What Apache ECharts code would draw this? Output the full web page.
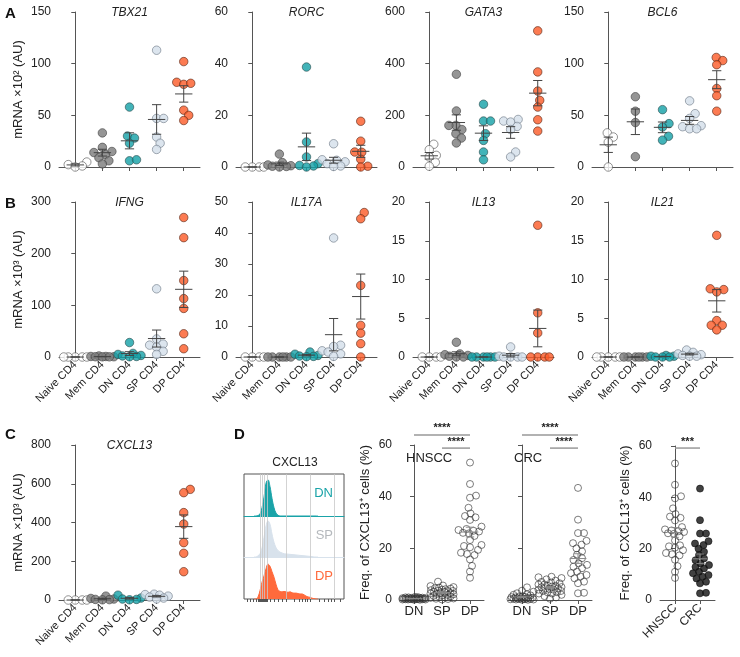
<!DOCTYPE html>
<html><head><meta charset="utf-8">
<script src="https://cdn.jsdelivr.net/npm/echarts@6/dist/echarts.min.js"></script>
<style>html,body{margin:0;padding:0;background:#fff}#c{width:740px;height:657px}</style>
</head><body><div id="c"></div><script>
// ---------------- DATA ----------------
const groups = ['Naive CD4','Mem CD4','DN CD4','SP CD4','DP CD4'];
// Panel A (mRNA x10^2)
const TBX21 = [[2.3,0,4.8,1],[33,19,15,14,12,9,6,3],[58,30,28,23,6,7],[113,47,47,29,23,17],[102,82,80,81,55,50,45]];
const RORC  = [[0,0,0,0],[5,1.7,0.8,0.5,0.3,0.2,0],[38.7,9.7,3.9,1.3,0.6,0.4,0],[9,2.8,2.6,2,1.3,0.4,0.2],[17.7,10,5.8,5.7,3,0.3,0]];
const GATA3 = [[88,67,45,39,18,3],[359,217,161,161,145,129,112,93],[243,178,178,129,103,58,28],[184,178,174,157,145,58,39],[527,368,294,258,232,183,139]];
const BCL6  = [[33,29,24,0],[68,54,43,10],[55.5,42,38.7,29.7,26],[64,51.6,47,40,39,37,37],[106,103,99,76,69,54]];
// Panel B (mRNA x10^3)
const IFNG  = [[0,0,0,0,0],[2,1,1,0.5,0.5,0.3,0.3],[28,7,5,3,2,1,0.5],[132,35,25,23,19,11,5],[270,231,148,113,94,45,16]];
const IL17A = [[0,0,0,0],[0,0,0,0,0,0],[1.6,0.9,0.5,0.3,0.2,0.1],[38.4,3.8,3.4,2,1.6,1,0.2],[46.6,44.6,23.1,10.2,7.7,4.3,0]];
const IL13  = [[0,0,0,0],[1.9,0.4,0.3,0.2,0.1,0,0],[0,0,0,0,0,0],[1.3,0.1,0,0,0,0],[17,5.7,3.1,0,0,0,0]];
const IL21  = [[0,0,0,0,0],[0,0,0,0,0,0],[0.2,0.1,0.1,0,0,0],[0.9,0.6,0.4,0.3,0.2,0.1,0.1],[15.7,8.8,8.7,8.4,4.7,4.1,4.1,3.5]];
// Panel C (mRNA x10^3)
const CXCL13 = [[0,0,0,0],[20,8,5,3,2,1],[25,10,5,3,1],[30,28,25,20,15,10,5],[571,554,451,392,296,241,146]];
// Panel D
const popCats = ['DN','SP','DP'];
const HNSCC_DN = [0.1,0.2,0.2,0.3,0.3,0.4,0.4,0.5,0.5,0.6,0.6,0.7,0.7,0.8,0.8,0.9,1.0,1.0,1.1,1.2,0.3,0.5,0.2,0.4,0.6,0.1,0.3,0.8];
const HNSCC_SP = [7.1,5.6,5.4,5.0,4.8,4.6,4.4,4.2,4.0,3.8,3.6,3.4,3.2,3.0,2.8,2.6,2.4,2.2,2.0,1.8,1.6,1.4,1.2,1.0,0.8,0.6,0.4,0.2,0.5,2.5,3.5];
const HNSCC_DP = [53.2,44.9,40.4,39.6,35.7,33.5,32.5,32,31,28.4,27.5,27.1,26.8,26.5,26,25.8,24.8,23.2,21.3,20.9,20.4,19.4,18.3,17.8,17.4,15.7,13.2,11,8.6];
const CRC_DN = [4.9,3.6,3.2,2.6,2.2,1.8,1.5,1.2,1.0,0.8,0.6,0.5,0.4,0.3,0.2,0.1,0.3,0.5,0.7,0.9,1.1,0.2,0.4,0.6,0.1,1.4,2.0];
const CRC_SP = [9.0,8.8,8.5,8.0,7.5,7.0,6.5,6.0,6.0,5.5,5.5,5.0,5.0,4.5,4.5,4.0,4.0,3.5,3.5,3.0,3.0,2.5,2.5,2.0,1.5,1.0,0.5,6.8,5.2,4.2];
const CRC_DP = [43.4,31.1,25.9,25.9,22.9,22,21.4,20,18.8,17.5,16.2,15.5,14.2,13.6,12.9,12.3,11,10.4,9.7,9.1,8.4,7.1,6.5,2.8,2.6];
const cohorts = ['HNSCC','CRC'];
// Histogram (CXCL13 intensity, relative channel 0-100, normalized height)
const HIST_X  = [10,12,14,16,18,20,22,24,26,28,30,32,34,36,38,40,42,44,46,48,50,52,54,56,58,60,62,64,66,68,70,72,74];
const HIST_DN = [0,0,0.01,0.05,0.2,0.45,0.78,0.86,0.7,0.42,0.2,0.07,0.02,0,0,0,0,0,0,0,0,0,0,0,0,0,0,0,0,0,0,0,0];
const HIST_SP = [0,0,0.03,0.08,0.22,0.48,0.76,0.88,0.8,0.56,0.36,0.23,0.16,0.12,0.1,0.08,0.075,0.07,0.065,0.06,0.055,0.05,0.045,0.04,0.035,0.03,0.025,0.02,0.015,0.01,0,0,0];
const HIST_DP = [0,0,0.05,0.2,0.4,0.55,0.72,0.83,0.78,0.65,0.52,0.35,0.22,0.18,0.17,0.18,0.17,0.16,0.17,0.15,0.14,0.14,0.13,0.12,0.12,0.1,0.07,0.05,0.04,0.02,0.01,0,0];

// ---------------- STYLE / LAYOUT ----------------
const FONT = '"Liberation Sans", Arial, Helvetica, sans-serif';
const AX = '#555', TXT = '#222';
const groupStyle = [
  {color:'#ffffff', borderColor:'#555'},
  {color:'#7b7b7b', borderColor:'#444'},
  {color:'#13a0a6', borderColor:'#2d4f50'},
  {color:'#d3deea', borderColor:'#6f7b88'},
  {color:'#fb5a27', borderColor:'#5a2a1a'}
];
const rowPanels = [
  {title:'TBX21', data:TBX21, max:150, step:50, left:59,  top:12,  yname:'mRNA ×10² (AU)', labels:false},
  {title:'RORC',  data:RORC,  max:60,  step:20, left:236, top:12,  labels:false},
  {title:'GATA3', data:GATA3, max:600, step:200,left:413, top:12,  labels:false},
  {title:'BCL6',  data:BCL6,  max:150, step:50, left:592, top:12,  labels:false},
  {title:'IFNG',  data:IFNG,  max:300, step:100,left:59,  top:202, yname:'mRNA ×10³ (AU)', labels:true},
  {title:'IL17A', data:IL17A, max:50,  step:10, left:236, top:202, labels:true},
  {title:'IL13',  data:IL13,  max:20,  step:5,  left:413, top:202, labels:true},
  {title:'IL21',  data:IL21,  max:20,  step:5,  left:592, top:202, labels:true},
  {title:'CXCL13',data:CXCL13,max:800, step:200,left:59,  top:445, yname:'mRNA ×10³ (AU)', labels:true}
];
const PW = 141, PH = 155, XMIN = -0.6, XMAX = 4.6;

function swarm(vals, ppu, catPx, d, maxFrac){
  const order = vals.map((v,i)=>i).sort((a,b)=>vals[a]-vals[b]);
  const placed = [], off = new Array(vals.length).fill(0);
  const maxOff = maxFrac*catPx;
  const cands = [0];
  for (let k=1;k<=60;k++){ const s=k*0.5; if (s>maxOff) break; cands.push(s,-s); }
  for (const i of order){
    const y = vals[i]*ppu;
    let best = 0, bestScore = -Infinity;
    for (const dx of cands){
      let minD = Infinity;
      for (const p of placed){ const dd = Math.hypot(p.x-dx, p.y-y); if (dd<minD) minD=dd; }
      if (minD >= d){ best = dx; break; }
      if (minD > bestScore){ bestScore = minD; best = dx; }
    }
    placed.push({x:best, y:y});
    off[i] = best/catPx;
  }
  return off;
}
function meanSem(v){
  const n=v.length, m=v.reduce((a,b)=>a+b,0)/n;
  const sd=Math.sqrt(v.reduce((a,b)=>a+(b-m)*(b-m),0)/(n-1));
  const s=sd/Math.sqrt(n);
  return [m, m-s, m+s];
}
function errRender(color, hwF, cwF){
  return function(params, api){
    const x=api.value(0), m=api.value(1), lo=api.value(2), hi=api.value(3);
    const pm=api.coord([x,m]), pl=api.coord([x,lo]), ph=api.coord([x,hi]);
    const unit=api.size([1,0])[0];
    const hw=unit*hwF, cw=unit*cwF;
    const style={stroke:color, lineWidth:1};
    return {type:'group', children:[
      {type:'line', shape:{x1:pm[0]-hw,y1:pm[1],x2:pm[0]+hw,y2:pm[1]}, style:style},
      {type:'line', shape:{x1:pl[0],y1:pl[1],x2:ph[0],y2:ph[1]}, style:style},
      {type:'line', shape:{x1:pl[0]-cw,y1:pl[1],x2:pl[0]+cw,y2:pl[1]}, style:style},
      {type:'line', shape:{x1:ph[0]-cw,y1:ph[1],x2:ph[0]+cw,y2:ph[1]}, style:style}
    ]};
  };
}

const option = {
  animation:false, backgroundColor:'#fff',
  textStyle:{fontFamily:FONT},
  grid:[], xAxis:[], yAxis:[], series:[], title:[], graphic:[]
};
function axisBase(){
  return {
    axisLine:{show:true, lineStyle:{color:AX, width:1}},
    axisTick:{show:true, length:4, lineStyle:{color:AX}},
    splitLine:{show:false},
    axisLabel:{color:TXT, fontSize:12, fontFamily:FONT}
  };
}

let gi = 0;
rowPanels.forEach(p=>{
  option.grid.push({left:p.left, top:p.top, width:PW, height:PH});
  const xa = Object.assign(axisBase(), {type:'value', gridIndex:gi, min:XMIN, max:XMAX});
  xa.axisTick = {show:true, length:4, lineStyle:{color:AX}, customValues:[0,1,2,3,4]};
  xa.axisLabel = p.labels ? {show:true, customValues:[0,1,2,3,4], formatter:v=>groups[Math.round(v)], rotate:45, fontSize:11, color:TXT, margin:6, fontFamily:FONT} : {show:false};
  option.xAxis.push(xa);
  const ya = Object.assign(axisBase(), {type:'value', gridIndex:gi, min:0, max:p.max, interval:p.step});
  if (p.yname){ Object.assign(ya, {name:p.yname, nameLocation:'middle', nameGap:34, nameTextStyle:{fontSize:13, color:TXT, fontFamily:FONT}}); }
  option.yAxis.push(ya);
  const catPx = PW/(XMAX-XMIN), ppu = PH/p.max;
  p.data.forEach((vals,k)=>{
    const off = swarm(vals, ppu, catPx, 7, 0.44);
    option.series.push({type:'scatter', xAxisIndex:gi, yAxisIndex:gi, symbolSize:8.5, z:2,
      itemStyle:Object.assign({borderWidth:0.8}, groupStyle[k]),
      data: vals.map((v,j)=>[k+off[j], v])});
  });
  option.series.push({type:'custom', xAxisIndex:gi, yAxisIndex:gi, z:5,
    renderItem: errRender('#444',0.32,0.17), encode:{x:0,y:1},
    data: p.data.map((vals,k)=>[k].concat(meanSem(vals)))});
  option.graphic.push({type:'text', x:p.left+PW/2, y:p.top+1, style:{text:p.title, font:'italic 12px '+FONT, fill:TXT, textAlign:'center', textVerticalAlign:'middle'}});
  gi++;
});

// ---- Panel D scatter panels ----
const dPanels = [
  {sets:[HNSCC_DN,HNSCC_SP,HNSCC_DP], cats:popCats, left:400, top:445, width:84, height:155, xmin:-0.5, xmax:2.5, ylabels:true, yname:'Freq. of CXCL13⁺ cells (%)', inner:'HNSCC', filled:[false,false,false], rot:0},
  {sets:[CRC_DN,CRC_SP,CRC_DP], cats:popCats, left:508, top:445, width:84, height:155, xmin:-0.5, xmax:2.5, ylabels:false, inner:'CRC', filled:[false,false,false], rot:0},
  {sets:[HNSCC_DP,CRC_DP], cats:cohorts, left:660, top:446, width:55, height:154, xmin:-0.6, xmax:1.6, ylabels:true, yname:'Freq. of CXCL13⁺ cells (%)', filled:[false,true], rot:45}
];
const dGrid = [];
dPanels.forEach(p=>{
  dGrid.push(gi);
  option.grid.push({left:p.left, top:p.top, width:p.width, height:p.height});
  const idx = p.cats.map((c,i)=>i);
  const xa = Object.assign(axisBase(), {type:'value', gridIndex:gi, min:p.xmin, max:p.xmax});
  xa.axisTick = {show:true, length:4, lineStyle:{color:AX}, customValues:idx};
  xa.axisLabel = {show:true, customValues:idx, formatter:v=>p.cats[Math.round(v)], rotate:p.rot, fontSize:p.rot?12:13, color:TXT, margin:p.rot?6:5, fontFamily:FONT};
  option.xAxis.push(xa);
  const ya = Object.assign(axisBase(), {type:'value', gridIndex:gi, min:0, max:60, interval:20});
  ya.axisLabel.show = p.ylabels;
  if (p.yname) Object.assign(ya, {name:p.yname, nameLocation:'middle', nameGap:p.ylabels?28:10, nameTextStyle:{fontSize:13, color:TXT, fontFamily:FONT}});
  option.yAxis.push(ya);
  const catPx = p.width/(p.xmax-p.xmin), ppu = p.height/60;
  p.sets.forEach((vals,k)=>{
    const off = swarm(vals, ppu, catPx, 6, 0.42);
    option.series.push({type:'scatter', xAxisIndex:gi, yAxisIndex:gi, symbolSize:7, z:2,
      itemStyle: p.filled[k] ? {color:'#111', borderColor:'#111', borderWidth:0.8} : {color:'rgba(255,255,255,0)', borderColor:'#333', borderWidth:0.8},
      data: vals.map((v,j)=>[k+off[j], v])});
  });
  option.series.push({type:'custom', xAxisIndex:gi, yAxisIndex:gi, z:5,
    renderItem: errRender('#888',0.3,0.15), encode:{x:0,y:1},
    data: p.sets.map((vals,k)=>[k].concat(meanSem(vals)))});
  if (p.inner) option.graphic.push({type:'text', x:p.left+6, y:p.top+13, style:{text:p.inner, font:'13px '+FONT, fill:TXT, textAlign:'left', textVerticalAlign:'middle'}});
  gi++;
});

// ---- Histogram (panel D left) ----
const HB = {left:244, top:474, width:100, height:125};
option.grid.push({left:HB.left, top:HB.top, width:HB.width, height:HB.height, show:true, borderColor:AX, borderWidth:1, backgroundColor:'transparent'});
option.xAxis.push({type:'value', gridIndex:gi, min:0, max:100, axisLine:{show:false}, splitLine:{show:false},
  axisTick:{show:true, inside:false, length:3, lineStyle:{color:AX}, customValues:[3,6,9,12,14,15,16,17,18,19,20,21,22,23,26,30,34,38,42,50,55,58,61,63,66,75,80,84,87,90,96]},
  axisLabel:{show:false}});
option.yAxis.push({type:'value', gridIndex:gi, min:0, max:1, show:false});
option.series.push({type:'line', xAxisIndex:gi, yAxisIndex:gi, data:[[0,0]], symbol:'none', lineStyle:{opacity:0}, z:1, silent:true,
  markLine:{silent:true, symbol:'none', label:{show:false}, lineStyle:{color:'#c8c8c8', width:0.8, type:'solid'},
    data:[16,18,20,23,42,66,90].map(v=>({xAxis:v}))}});
gi++;
const hists = [
  {h:HIST_DN, top:474, height:42, fill:'#1aa3a8', base:'#1aa3a8', label:'DN', lc:'#1aa3a8'},
  {h:HIST_SP, top:516, height:41, fill:'#d8e2ec', base:'#d8e2ec', label:'SP', lc:'#b5b9bd'},
  {h:HIST_DP, top:557, height:42, fill:'#ff6a3c', base:AX, label:'DP', lc:'#ff6a3c'}
];
hists.forEach((h,k)=>{
  option.grid.push({left:HB.left, top:h.top, width:HB.width, height:h.height});
  option.xAxis.push({type:'value', gridIndex:gi, min:0, max:100, axisLine:{show:k<2, lineStyle:{color:h.base, width:1}}, axisTick:{show:false}, axisLabel:{show:false}, splitLine:{show:false}});
  option.yAxis.push({type:'value', gridIndex:gi, min:0, max:1, show:false});
  option.series.push({type:'line', xAxisIndex:gi, yAxisIndex:gi, smooth:0.4, symbol:'none', z:3,
    lineStyle:{color:h.fill, width:1}, areaStyle:{color:h.fill, opacity:1},
    data: HIST_X.map((x,i)=>[x, h.h[i]])});
  option.graphic.push({type:'text', x:333, y:h.top+19, style:{text:h.label, font:'13px '+FONT, fill:h.lc, textAlign:'right', textVerticalAlign:'middle'}});
  gi++;
});
option.graphic.push({type:'text', x:295, y:463, style:{text:'CXCL13', font:'12px '+FONT, fill:TXT, textAlign:'center', textVerticalAlign:'middle'}});

// Panel letters
[['A',5,6],['B',5,196],['C',5,427],['D',234,427]].forEach(l=>{
  option.graphic.push({type:'text', left:l[1], top:l[2], style:{text:l[0], font:'bold 15px '+FONT, fill:'#111'}});
});

const chart = echarts.init(document.getElementById('c'), null, {renderer:'canvas'});
chart.setOption(option);

// significance annotations in data coordinates
function P(g, x, y){ return chart.convertToPixel({gridIndex:g}, [x,y]); }
const sig = [
  {g:dGrid[0], x1:0, x2:2, y:63.9, t:'****'},
  {g:dGrid[0], x1:1, x2:2, y:58.8, t:'****'},
  {g:dGrid[1], x1:0, x2:2, y:63.9, t:'****'},
  {g:dGrid[1], x1:1, x2:2, y:58.8, t:'****'},
  {g:dGrid[2], x1:0, x2:1, y:59.2, t:'***'}
];
const extra = [];
sig.forEach(s=>{
  const a=P(s.g,s.x1,s.y), b=P(s.g,s.x2,s.y);
  extra.push({type:'line', shape:{x1:a[0],y1:a[1],x2:b[0],y2:b[1]}, style:{stroke:'#999', lineWidth:1.5}, z:10});
  extra.push({type:'text', x:(a[0]+b[0])/2, y:a[1]-1, style:{text:s.t, font:'bold 11px '+FONT, fill:TXT, textAlign:'center', textVerticalAlign:'bottom'}, z:10});
});
chart.setOption({graphic: option.graphic.concat(extra)});
</script></body></html>
